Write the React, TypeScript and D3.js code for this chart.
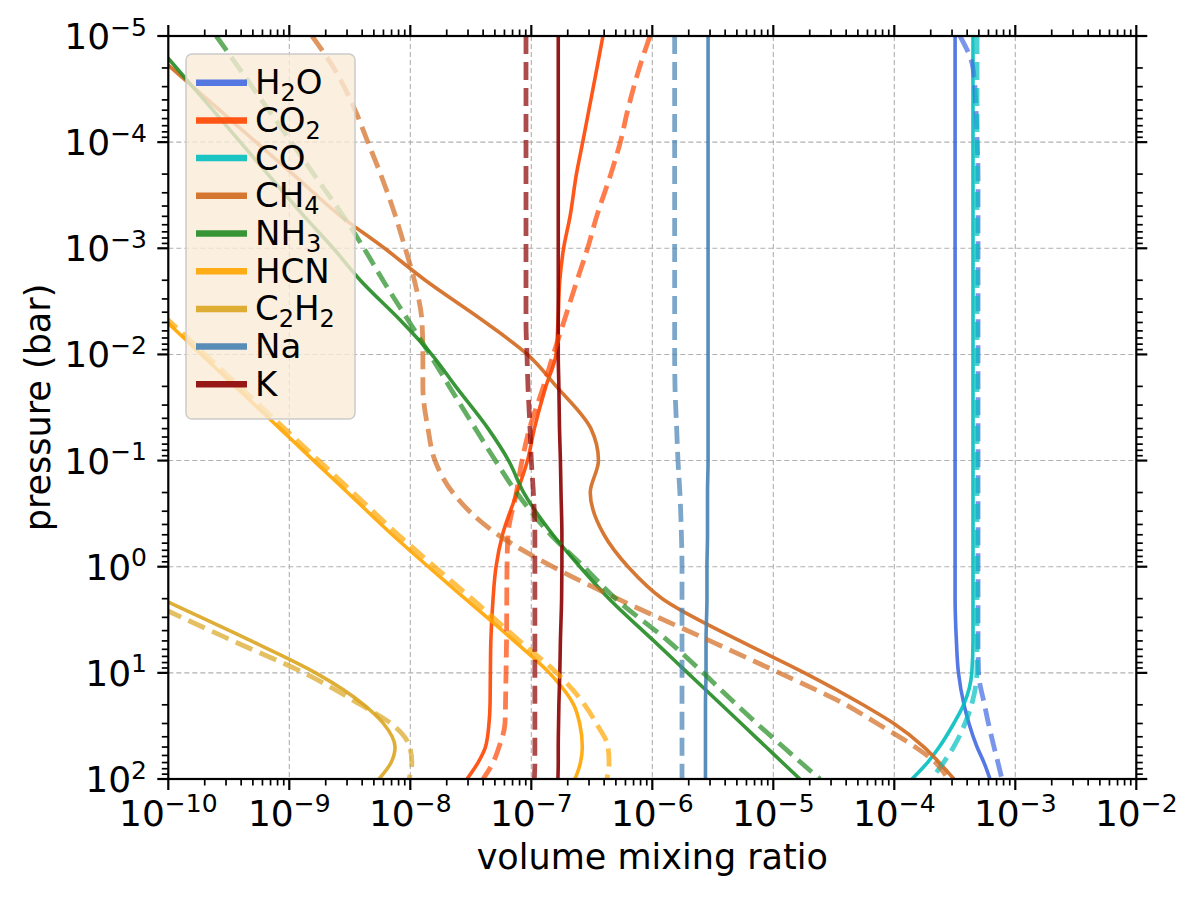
import React from 'react';
import * as d3 from 'd3';

// Shared pressure grid (bar)
const pressure = [1e-5, 2e-5, 5e-5, 1e-4, 2e-4, 5e-4, 1e-3, 2e-3, 5e-3, 1e-2, 2e-2, 5e-2, 0.1, 0.2, 0.5, 1, 2, 5, 10, 20, 30, 50, 70, 100];

// Volume mixing ratios, solid = model A, dashed = model B (null = not plotted)
const h2oSolid = [3.18e-4, 3.18e-4, 3.18e-4, 3.18e-4, 3.18e-4, 3.18e-4, 3.18e-4, 3.18e-4, 3.18e-4, 3.18e-4, 3.18e-4, 3.18e-4, 3.18e-4, 3.18e-4, 3.18e-4, 3.18e-4, 3.18e-4, 3.26e-4, 3.39e-4, 3.77e-4, 4.14e-4, 4.83e-4, 5.51e-4, 6.18e-4];
const h2oDashed = [3.49e-4, 4.47e-4, 4.74e-4, 4.84e-4, 4.92e-4, 4.92e-4, 4.92e-4, 4.92e-4, 4.92e-4, 4.92e-4, 4.92e-4, 4.92e-4, 4.92e-4, 4.92e-4, 4.92e-4, 4.92e-4, 4.92e-4, 4.92e-4, 4.97e-4, 5.57e-4, 6.0e-4, 6.67e-4, 7.19e-4, 7.76e-4];
const co2Solid = [3.91e-7, 3.49e-7, 2.99e-7, 2.66e-7, 2.36e-7, 2.09e-7, 1.85e-7, 1.72e-7, 1.66e-7, 1.60e-7, 1.32e-7, 1.06e-7, 9.30e-8, 7.62e-8, 5.78e-8, 5.11e-8, 4.83e-8, 4.63e-8, 4.59e-8, 4.56e-8, 4.47e-8, 4.18e-8, 3.63e-8, 2.94e-8];
const co2Dashed = [9.57e-7, 7.81e-7, 6.26e-7, 5.44e-7, 4.54e-7, 3.47e-7, 2.92e-7, 2.39e-7, 1.85e-7, 1.52e-7, 1.26e-7, 9.66e-8, 8.38e-8, 7.53e-8, 6.42e-8, 6.30e-8, 6.27e-8, 6.24e-8, 6.18e-8, 6.12e-8, 6.06e-8, 5.41e-8, 4.83e-8, 3.99e-8];
const coSolid = [4.47e-4, 4.47e-4, 4.47e-4, 4.47e-4, 4.47e-4, 4.47e-4, 4.47e-4, 4.47e-4, 4.47e-4, 4.47e-4, 4.47e-4, 4.47e-4, 4.47e-4, 4.47e-4, 4.47e-4, 4.47e-4, 4.47e-4, 4.47e-4, 4.37e-4, 3.74e-4, 3.10e-4, 2.35e-4, 1.88e-4, 1.40e-4];
const coDashed = [4.83e-4, 4.83e-4, 4.83e-4, 4.83e-4, 4.83e-4, 4.83e-4, 4.83e-4, 4.83e-4, 4.83e-4, 4.83e-4, 4.83e-4, 4.83e-4, 4.83e-4, 4.83e-4, 4.83e-4, 4.83e-4, 4.83e-4, 4.83e-4, 4.81e-4, 4.35e-4, 3.84e-4, 3.09e-4, 2.55e-4, 2.03e-4];
const ch4Solid = [5.31e-11, 1.06e-10, 2.66e-10, 5.31e-10, 1.07e-9, 2.67e-9, 6.12e-9, 1.33e-8, 4.19e-8, 9.29e-8, 1.61e-7, 3.11e-7, 3.59e-7, 3.07e-7, 3.99e-7, 6.30e-7, 1.21e-6, 5.31e-6, 1.81e-5, 5.51e-5, 9.91e-5, 1.76e-4, 2.35e-4, 3.11e-4];
const ch4Dashed = [1.54e-9, 2.33e-9, 3.50e-9, 4.46e-9, 5.68e-9, 7.55e-9, 9.08e-9, 1.08e-8, 1.25e-8, 1.27e-8, 1.27e-8, 1.40e-8, 1.60e-8, 2.24e-8, 5.31e-8, 1.50e-7, 5.15e-7, 3.00e-6, 1.12e-5, 3.99e-5, 7.22e-5, 1.49e-4, 2.19e-4, 2.78e-4];
const nh3Solid = [6.93e-11, 1.17e-10, 2.34e-10, 3.94e-10, 6.64e-10, 1.33e-9, 2.31e-9, 3.86e-9, 8.62e-9, 1.50e-8, 2.37e-8, 4.40e-8, 6.49e-8, 8.65e-8, 1.51e-7, 2.52e-7, 4.39e-7, 1.03e-6, 1.96e-6, 3.73e-6, 5.44e-6, 8.72e-6, 1.19e-5, 1.66e-5];
const nh3Dashed = [2.49e-10, 3.83e-10, 6.75e-10, 1.04e-9, 1.59e-9, 2.80e-9, 4.14e-9, 5.94e-9, 9.87e-9, 1.45e-8, 2.10e-8, 3.45e-8, 5.05e-8, 7.55e-8, 1.45e-7, 2.71e-7, 4.98e-7, 1.35e-6, 2.63e-6, 4.98e-6, 7.31e-6, 1.21e-5, 1.69e-5, 2.43e-5];
const hcnSolid = [null, null, null, null, null, null, null, 4.2e-11, 9.85e-11, 1.87e-10, 3.57e-10, 8.36e-10, 1.59e-9, 3.03e-9, 7.10e-9, 1.41e-8, 2.84e-8, 7.21e-8, 1.41e-7, 2.24e-7, 2.51e-7, 2.64e-7, 2.55e-7, 2.30e-7];
const hcnDashed = [null, null, null, null, null, null, null, 4.41e-11, 1.05e-10, 2.01e-10, 3.86e-10, 9.11e-10, 1.75e-9, 3.36e-9, 7.93e-9, 1.59e-8, 3.22e-8, 7.98e-8, 1.62e-7, 2.76e-7, 3.45e-7, 4.31e-7, 4.39e-7, 4.22e-7];
const c2h2Solid = [null, null, null, null, null, null, null, null, null, null, null, null, null, null, null, 2.30e-11, 8.67e-11, 4.85e-10, 1.65e-9, 4.14e-9, 6.00e-9, 7.48e-9, 6.94e-9, 5.51e-9];
const c2h2Dashed = [null, null, null, null, null, null, null, null, null, null, null, null, null, null, null, null, 6.0e-11, 3.42e-10, 1.32e-9, 3.89e-9, 6.92e-9, 9.90e-9, 1.03e-8, 9.76e-9];
const naSolid = [2.89e-6, 2.89e-6, 2.89e-6, 2.89e-6, 2.89e-6, 2.89e-6, 2.89e-6, 2.89e-6, 2.89e-6, 2.89e-6, 2.89e-6, 2.89e-6, 2.89e-6, 2.86e-6, 2.86e-6, 2.83e-6, 2.83e-6, 2.78e-6, 2.78e-6, 2.75e-6, 2.75e-6, 2.75e-6, 2.75e-6, 2.75e-6];
const naDashed = [1.53e-6, 1.53e-6, 1.53e-6, 1.53e-6, 1.53e-6, 1.53e-6, 1.53e-6, 1.53e-6, 1.53e-6, 1.53e-6, 1.54e-6, 1.59e-6, 1.63e-6, 1.69e-6, 1.74e-6, 1.76e-6, 1.76e-6, 1.76e-6, 1.76e-6, 1.76e-6, 1.76e-6, 1.76e-6, 1.76e-6, 1.76e-6];
const kSolid = [1.67e-7, 1.67e-7, 1.67e-7, 1.67e-7, 1.67e-7, 1.67e-7, 1.67e-7, 1.67e-7, 1.67e-7, 1.67e-7, 1.69e-7, 1.71e-7, 1.74e-7, 1.76e-7, 1.79e-7, 1.79e-7, 1.78e-7, 1.74e-7, 1.72e-7, 1.69e-7, 1.68e-7, 1.67e-7, 1.67e-7, 1.66e-7];
const kDashed = [9.04e-8, 9.04e-8, 9.04e-8, 9.04e-8, 9.04e-8, 9.04e-8, 9.04e-8, 9.04e-8, 9.04e-8, 9.21e-8, 9.39e-8, 9.76e-8, 1.00e-7, 1.04e-7, 1.07e-7, 1.07e-7, 1.07e-7, 1.07e-7, 1.07e-7, 1.07e-7, 1.07e-7, 1.07e-7, 1.07e-7, 1.06e-7];

// Legend labels: [text, subscript?] parts
const speciesNames = ['H2O', 'CO2', 'CO', 'CH4', 'NH3', 'HCN', 'C2H2', 'Na', 'K'];
const speciesLabels: [string, boolean][][] = [
  [['H', false], ['2', true], ['O', false]],
  [['CO', false], ['2', true]],
  [['CO', false]],
  [['CH', false], ['4', true]],
  [['NH', false], ['3', true]],
  [['HCN', false]],
  [['C', false], ['2', true], ['H', false], ['2', true]],
  [['Na', false]],
  [['K', false]],
];
const speciesColors = ['royalblue', 'orangered', '#00bfbf', 'chocolate', 'forestgreen', 'orange', 'goldenrod', 'steelblue', 'darkred'];
const solidSeries = [h2oSolid, co2Solid, coSolid, ch4Solid, nh3Solid, hcnSolid, c2h2Solid, naSolid, kSolid];
const dashedSeries = [h2oDashed, co2Dashed, coDashed, ch4Dashed, nh3Dashed, hcnDashed, c2h2Dashed, naDashed, kDashed];

const xDecades = [-10, -9, -8, -7, -6, -5, -4, -3, -2];
const yDecades = [-5, -4, -3, -2, -1, 0, 1, 2];
const xLabel = 'volume mixing ratio';
const yLabel = 'pressure (bar)';

const FONT = 'DejaVu Sans, sans-serif';

export default function App() {
  const left = 168.3, right = 1136.3, top = 36, bottom = 779;
  const x = d3.scaleLog().domain([1e-10, 1e-2]).range([left, right]);
  const y = d3.scaleLog().domain([1e-5, 1e2]).range([top, bottom]);

  const makeLine = (vals: (number | null)[]) => {
    const pts = pressure.map((p, i) => [p, vals[i]] as [number, number | null]);
    return d3.line<[number, number | null]>()
      .defined(d => d[1] != null)
      .x(d => x(d[1] as number))
      .y(d => y(d[0]))
      .curve(d3.curveMonotoneY)(pts) || '';
  };

  const minorX: number[] = [];
  xDecades.slice(0, -1).forEach(k => { for (let m = 2; m <= 9; m++) minorX.push(m * Math.pow(10, k)); });
  const minorY: number[] = [];
  yDecades.slice(0, -1).forEach(k => { for (let m = 2; m <= 9; m++) minorY.push(m * Math.pow(10, k)); });

  const expText = (k: number) => (k < 0 ? '\u2212' + Math.abs(k) : String(k));

  const majorLen = 11, minorLen = 6.5;
  const tickColor = '#000';

  const rowY = (i: number) => 82.7 + i * 37.7;

  return (
    <svg width={1200} height={900} style={{ position: 'absolute', left: 0, top: 0, background: '#fff' }} fontFamily={FONT}>
      <defs>
        <clipPath id="plotclip">
          <rect x={left} y={top} width={right - left} height={bottom - top} />
        </clipPath>
      </defs>
      <rect x={0} y={0} width={1200} height={900} fill="#fff" />
      {/* grid */}
      <g stroke="#b0b0b0" strokeWidth={1.1} strokeDasharray="5 3">
        {xDecades.slice(1, -1).map(k => (
          <line key={'gx' + k} x1={x(Math.pow(10, k))} x2={x(Math.pow(10, k))} y1={top} y2={bottom} />
        ))}
        {yDecades.slice(1, -1).map(k => (
          <line key={'gy' + k} x1={left} x2={right} y1={y(Math.pow(10, k))} y2={y(Math.pow(10, k))} />
        ))}
      </g>
      {/* curves */}
      <g clipPath="url(#plotclip)" fill="none" strokeLinejoin="round">
        {solidSeries.map((s, i) => (
          <path key={'s' + speciesNames[i]} d={makeLine(s)} stroke={speciesColors[i]} strokeOpacity={0.9} strokeWidth={3.6} />
        ))}
        {dashedSeries.map((s, i) => (
          <path key={'d' + speciesNames[i]} d={makeLine(s)} stroke={speciesColors[i]} strokeOpacity={0.7} strokeWidth={4.8} strokeDasharray="18 8" />
        ))}
      </g>
      {/* legend */}
      <g>
        <rect x={186} y={54} width={169} height={365} rx={6} ry={6} fill="#faebd7" fillOpacity={0.8} stroke="#cccccc" strokeWidth={1.5} />
        {speciesLabels.map((parts, i) => (
          <g key={'lg' + i}>
            <line x1={196} x2={247} y1={rowY(i)} y2={rowY(i)} stroke={speciesColors[i]} strokeOpacity={0.9} strokeWidth={6.5} />
            <text x={255} y={rowY(i) + 11.5} fontSize={34} fill="#000">
              {parts.map((p, j) => {
                const prevSub = j > 0 && parts[j - 1][1];
                const dy = p[1] ? 7 : prevSub ? -7 : 0;
                return (
                  <tspan key={j} fontSize={p[1] ? 24 : 34} dy={dy}>{p[0]}</tspan>
                );
              })}
            </text>
          </g>
        ))}
      </g>
      {/* spines */}
      <rect x={left} y={top} width={right - left} height={bottom - top} fill="none" stroke="#000" strokeWidth={2.2} />
      {/* ticks */}
      <g stroke={tickColor}>
        {xDecades.map(k => {
          const px = x(Math.pow(10, k));
          return (
            <g key={'xt' + k} strokeWidth={2.2}>
              <line x1={px} x2={px} y1={bottom} y2={bottom + majorLen} />
              <line x1={px} x2={px} y1={top} y2={top - majorLen} />
            </g>
          );
        })}
        {minorX.map((v, i) => {
          const px = x(v);
          return (
            <g key={'xm' + i} strokeWidth={1.7}>
              <line x1={px} x2={px} y1={bottom} y2={bottom + minorLen} />
              <line x1={px} x2={px} y1={top} y2={top - minorLen} />
            </g>
          );
        })}
        {yDecades.map(k => {
          const py = y(Math.pow(10, k));
          return (
            <g key={'yt' + k} strokeWidth={2.2}>
              <line x1={left} x2={left - majorLen} y1={py} y2={py} />
              <line x1={right} x2={right + majorLen} y1={py} y2={py} />
            </g>
          );
        })}
        {minorY.map((v, i) => {
          const py = y(v);
          return (
            <g key={'ym' + i} strokeWidth={1.7}>
              <line x1={left} x2={left - minorLen} y1={py} y2={py} />
              <line x1={right} x2={right + minorLen} y1={py} y2={py} />
            </g>
          );
        })}
      </g>
      {/* tick labels */}
      <g fill="#000">
        {xDecades.map(k => (
          <text key={'xl' + k} x={x(Math.pow(10, k))} y={826} textAnchor="middle" fontSize={36}>
            <tspan>10</tspan>
            <tspan fontSize={25} dy={-14}>{expText(k)}</tspan>
          </text>
        ))}
        {yDecades.map(k => (
          <text key={'yl' + k} x={147} y={y(Math.pow(10, k)) + 13} textAnchor="end" fontSize={36}>
            <tspan>10</tspan>
            <tspan fontSize={25} dy={-13.5}>{expText(k)}</tspan>
          </text>
        ))}
      </g>
      {/* axis labels */}
      <text x={(left + right) / 2} y={869} textAnchor="middle" fontSize={35} fill="#000">{xLabel}</text>
      <text transform={`translate(50, ${(top + bottom) / 2}) rotate(-90)`} textAnchor="middle" fontSize={35} fill="#000">{yLabel}</text>
    </svg>
  );
}
